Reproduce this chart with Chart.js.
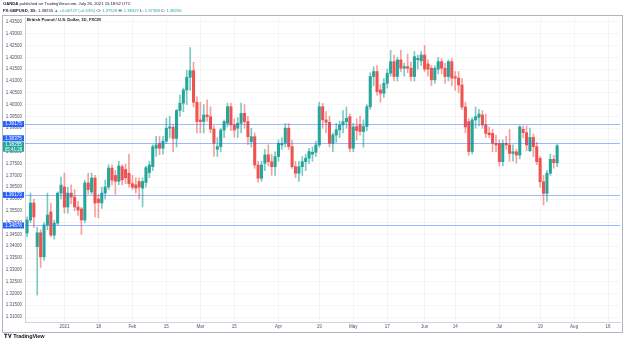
<!DOCTYPE html>
<html><head>
<meta charset="UTF-8">
<title>GBPUSD 1D</title>
<script src="https://cdn.jsdelivr.net/npm/chart.js@4"></script>
<style>
  body { margin: 0; background: #fff; font-family: "Liberation Sans", Arial, sans-serif; }
  #wrap { position: relative; width: 625px; height: 342px; overflow: hidden; }
  #chart { position: absolute; left: 0; top: 0; }
  .txt { position: absolute; white-space: nowrap; font-size: 4.2px; line-height: 6px; color: #131722; }
  .up { color: #26a69a; }
  #frame { position: absolute; left: 2px; top: 15px; width: 619px; height: 316px; border: 1px solid #b2b5be; pointer-events: none; }
  #logo { left: 4px; top: 333px; font-size: 5.5px; font-weight: bold; letter-spacing: -0.1px; }
</style>
</head><body>
<div id="wrap">
  <canvas id="chart" width="625" height="342"></canvas>
  <div id="frame"></div>
  <div class="txt" style="left:3px;top:1px;"><b>OANDA</b> published on TradingView.com, July 26, 2021 15:18:52 UTC</div>
  <div class="txt" style="left:3px;top:8px;"><b>FX:GBPUSD, 1D:</b> 1.38255 <span class="up">&#9650; +0.00727 (+0.53%)</span> O: <span class="up">1.37528</span> H: <span class="up">1.38327</span> L: <span class="up">1.37368</span> C: <span class="up">1.38255</span></div>
  <div class="txt" style="left:27px;top:17px;font-weight:bold;">British Pound / U.S. Dollar, 1D, FXCM</div>
  <div class="txt" id="logo">&#x1D413;&#x1D415; TradingView</div>
</div>
<script>
// daily candles, first one is Dec 16 2020 (bar index -11), bar 0 = Jan 4 2021
const firstBar = -11;
const opens = [
  1.3456, 1.3511, 1.3583, 1.3398, 1.3457, 1.3355, 1.3490, 1.3545, 1.3447, 1.3498, 1.3625,
  // Jan
  1.3651, 1.3566, 1.3625, 1.3608, 1.3566, 1.3558, 1.3511, 1.3668, 1.3630, 1.3689,
  1.3600, 1.3583, 1.3625, 1.3651, 1.3731, 1.3700, 1.3675, 1.3737, 1.3725, 1.3709,
  // Feb
  1.3665, 1.3660, 1.3674, 1.3646, 1.3670, 1.3712, 1.3737, 1.3815, 1.3836, 1.3815,
  1.3845, 1.3900, 1.3904, 1.3857, 1.3975, 1.4006, 1.4062, 1.4116, 1.4144, 1.4010,
  // Mar
  1.3935, 1.3928, 1.3956, 1.3949, 1.3896, 1.3811, 1.3822, 1.3892, 1.3921, 1.3991,
  1.3914, 1.3900, 1.3921, 1.3963, 1.3928, 1.3843, 1.3864, 1.3744, 1.3688, 1.3751,
  1.3787, 1.3758, 1.3737,
  // Apr
  1.3780, 1.3829, 1.3836, 1.3900, 1.3822, 1.3737, 1.3709, 1.3737, 1.3758, 1.3773,
  1.3790, 1.3798, 1.3829, 1.3991, 1.3935, 1.3925, 1.3836, 1.3871, 1.3893, 1.3914,
  1.3928, 1.3949,
  // May
  1.3815, 1.3907, 1.3914, 1.3886, 1.3907, 1.3991, 1.4119, 1.4140, 1.4062, 1.4048,
  1.4090, 1.4133, 1.4182, 1.4119, 1.4189, 1.4154, 1.4161, 1.4154, 1.4119, 1.4190,
  1.4185,
  // Jun
  1.4210, 1.4172, 1.4154, 1.4105, 1.4150, 1.4182, 1.4154, 1.4119, 1.4182, 1.4118,
  1.4112, 1.4083, 1.3990, 1.3928, 1.3801, 1.3935, 1.3946, 1.3956, 1.3914, 1.3880,
  1.3878, 1.3836,
  // Jul
  1.3836, 1.3758, 1.3836, 1.3829, 1.3793, 1.3800, 1.3786, 1.3895, 1.3881, 1.3805,
  1.3861, 1.3822, 1.3772, 1.3673, 1.3624, 1.3709, 1.3768, 1.37528
];
const highs = [
  1.3524, 1.3625, 1.3600, 1.3480, 1.3470, 1.3500, 1.3625, 1.3583, 1.3510, 1.3630, 1.3693,
  1.3710, 1.3650, 1.3660, 1.3640, 1.3590, 1.3565, 1.3680, 1.3710, 1.3710, 1.3700,
  1.3620, 1.3650, 1.3680, 1.3745, 1.3745, 1.3720, 1.3760, 1.3745, 1.3748, 1.3790,
  1.3700, 1.3690, 1.3690, 1.3690, 1.3740, 1.3760, 1.3830, 1.3865, 1.3865, 1.3865,
  1.3942, 1.3950, 1.3915, 1.3980, 1.4040, 1.4070, 1.4145, 1.4241, 1.4180, 1.4034,
  1.4010, 1.4000, 1.4020, 1.3990, 1.3910, 1.3860, 1.3900, 1.3935, 1.4006, 1.4006,
  1.3940, 1.3945, 1.4006, 1.4000, 1.3950, 1.3900, 1.3880, 1.3760, 1.3760, 1.3810,
  1.3830, 1.3790, 1.3800,
  1.3850, 1.3860, 1.3920, 1.3920, 1.3850, 1.3760, 1.3760, 1.3780, 1.3790, 1.3815,
  1.3820, 1.3845, 1.4010, 1.4005, 1.3970, 1.3950, 1.3880, 1.3920, 1.3930, 1.3975,
  1.3990, 1.3960,
  1.3920, 1.3940, 1.3950, 1.3935, 1.4000, 1.4135, 1.4160, 1.4165, 1.4085, 1.4110,
  1.4150, 1.4230, 1.4210, 1.4200, 1.4230, 1.4175, 1.4215, 1.4180, 1.4225, 1.4210,
  1.4225,
  1.4250, 1.4190, 1.4165, 1.4165, 1.4200, 1.4195, 1.4175, 1.4190, 1.4195, 1.4140,
  1.4140, 1.4110, 1.4010, 1.3940, 1.3945, 1.3990, 1.3980, 1.3975, 1.3960, 1.3905,
  1.3895, 1.3870,
  1.3850, 1.3850, 1.3865, 1.3895, 1.3830, 1.3810, 1.3910, 1.3910, 1.3910, 1.3900,
  1.3875, 1.3840, 1.3780, 1.3700, 1.3720, 1.3790, 1.3785, 1.38327
];
const lows = [
  1.3440, 1.3500, 1.3480, 1.3193, 1.3310, 1.3340, 1.3470, 1.3440, 1.3430, 1.3490, 1.3600,
  1.3540, 1.3540, 1.3580, 1.3550, 1.3530, 1.3450, 1.3500, 1.3620, 1.3620, 1.3524,
  1.3520, 1.3560, 1.3600, 1.3640, 1.3660, 1.3620, 1.3660, 1.3660, 1.3665, 1.3650,
  1.3640, 1.3625, 1.3600, 1.3566, 1.3650, 1.3690, 1.3720, 1.3780, 1.3787, 1.3790,
  1.3835, 1.3860, 1.3800, 1.3820, 1.3950, 1.3970, 1.4000, 1.4060, 1.3990, 1.3880,
  1.3880, 1.3880, 1.3930, 1.3880, 1.3780, 1.3780, 1.3800, 1.3860, 1.3905, 1.3890,
  1.3862, 1.3860, 1.3880, 1.3900, 1.3830, 1.3820, 1.3730, 1.3670, 1.3675, 1.3720,
  1.3740, 1.3700, 1.3700,
  1.3760, 1.3810, 1.3820, 1.3810, 1.3730, 1.3690, 1.3674, 1.3700, 1.3720, 1.3750,
  1.3760, 1.3780, 1.3820, 1.3900, 1.3880, 1.3820, 1.3800, 1.3840, 1.3860, 1.3880,
  1.3900, 1.3800,
  1.3800, 1.3850, 1.3870, 1.3820, 1.3890, 1.3980, 1.4080, 1.4040, 1.4010, 1.4030,
  1.4070, 1.4120, 1.4100, 1.4100, 1.4140, 1.4120, 1.4135, 1.4100, 1.4100, 1.4150,
  1.4165,
  1.4140, 1.4120, 1.4080, 1.4090, 1.4130, 1.4130, 1.4090, 1.4100, 1.4080, 1.4060,
  1.4050, 1.3980, 1.3880, 1.3785, 1.3790, 1.3900, 1.3910, 1.3900, 1.3860, 1.3860,
  1.3800, 1.3800,
  1.3740, 1.3740, 1.3810, 1.3760, 1.3760, 1.3751, 1.3770, 1.3860, 1.3805, 1.3800,
  1.3780, 1.3745, 1.3650, 1.3575, 1.3590, 1.3700, 1.3730, 1.37368
];
const closes = [
  1.3511, 1.3583, 1.3524, 1.3457, 1.3355, 1.3490, 1.3532, 1.3447, 1.3498, 1.3625, 1.3659,
  1.3566, 1.3625, 1.3608, 1.3566, 1.3553, 1.3511, 1.3668, 1.3640, 1.3689, 1.3583,
  1.3585, 1.3625, 1.3651, 1.3731, 1.3680, 1.3675, 1.3740, 1.3681, 1.3690, 1.3665,
  1.3650, 1.3646, 1.3650, 1.3674, 1.3733, 1.3744, 1.3822, 1.3829, 1.3815, 1.3845,
  1.3900, 1.3906, 1.3857, 1.3975, 1.4006, 1.4062, 1.4116, 1.4144, 1.4010, 1.3928,
  1.3928, 1.3956, 1.3949, 1.3896, 1.3836, 1.3822, 1.3892, 1.3928, 1.3991, 1.3914,
  1.3892, 1.3921, 1.3963, 1.3928, 1.3864, 1.3864, 1.3744, 1.3688, 1.3744, 1.3787,
  1.3758, 1.3737, 1.3780,
  1.3836, 1.3836, 1.3900, 1.3822, 1.3737, 1.3709, 1.3737, 1.3758, 1.3773, 1.3801,
  1.3798, 1.3829, 1.3991, 1.3935, 1.3925, 1.3836, 1.3871, 1.3893, 1.3914, 1.3928,
  1.3942, 1.3815,
  1.3905, 1.3890, 1.3886, 1.3907, 1.3991, 1.4119, 1.4140, 1.4055, 1.4048, 1.4090,
  1.4133, 1.4182, 1.4119, 1.4189, 1.4154, 1.4161, 1.4154, 1.4119, 1.4203, 1.4196,
  1.4210,
  1.4150, 1.4150, 1.4105, 1.4154, 1.4182, 1.4154, 1.4119, 1.4182, 1.4112, 1.4112,
  1.4083, 1.3990, 1.3905, 1.3801, 1.3935, 1.3949, 1.3960, 1.3914, 1.3878, 1.3872,
  1.3836, 1.3829,
  1.3758, 1.3836, 1.3829, 1.3793, 1.3800, 1.3786, 1.3906, 1.3881, 1.3829, 1.3861,
  1.3822, 1.3758, 1.3673, 1.3624, 1.3709, 1.3768, 1.3754, 1.38255
];

// time axis labels (bar index -> label)
const tickIndex = [0, 10, 20, 30, 40, 50, 63, 75, 85, 95, 106, 115, 128, 140, 150, 160];
const tickLabels = ['2021', '18', 'Feb', '15', 'Mar', '15', 'Apr', '19', 'May', '17', 'Jun', '14', 'Jul', '19', 'Aug', '16'];

// horizontal levels drawn on the chart
const levelValues = [1.39175, 1.38375, 1.36173, 1.34878];
const lastPrice = 1.38255;
const countdown = '05:41:28';

const UP = '#26a69a';
const DOWN = '#ef5350';
const LEVEL = '#2962ff';
const GRID = 'rgba(42,46,57,0.045)';
const FONT = '"Liberation Sans", Arial, sans-serif';

const isUp = opens.map((o, k) => closes[k] >= o);
const wickData = lows.map((l, k) => ({ x: firstBar + k, y: [l, highs[k]] }));
const bodyData = opens.map((o, k) => ({ x: firstBar + k, y: [o, closes[k]] }));

function tag(ctx, yTop, h, color, lines) {
  ctx.fillStyle = color;
  ctx.fillRect(3, yTop, 21, h);
  ctx.fillStyle = '#fff';
  ctx.font = '4.5px ' + FONT;
  ctx.textAlign = 'center';
  ctx.textBaseline = 'middle';
  const step = h / lines.length;
  lines.forEach((t, i) => ctx.fillText(t, 13.5, yTop + step * (i + 0.5)));
}

const levelPlugin = {
  id: 'levels',
  afterDatasetsDraw(chart) {
    const { ctx, chartArea: a } = chart;
    const y = chart.scales.y;
    ctx.save();
    ctx.strokeStyle = 'rgba(41,98,255,0.45)';
    ctx.lineWidth = 1;
    levelValues.forEach((v) => {
      const py = Math.round(y.getPixelForValue(v)) + 0.5;
      ctx.beginPath();
      ctx.moveTo(a.left, py);
      ctx.lineTo(a.right, py);
      ctx.stroke();
    });
    ctx.restore();
  },
  afterDraw(chart) {
    const { ctx } = chart;
    const y = chart.scales.y;
    const curTop = y.getPixelForValue(lastPrice) - 4;
    ctx.save();
    levelValues.forEach((v) => {
      let top = y.getPixelForValue(v) - 3;
      // keep clear of the last price tag
      if (top + 6 > curTop && top < curTop + 10) top = curTop - 6.5;
      tag(ctx, top, 6, LEVEL, [v.toFixed(5)]);
    });
    tag(ctx, curTop, 10, UP, [lastPrice.toFixed(5), countdown]);
    ctx.restore();
  }
};

new Chart(document.getElementById('chart'), {
  type: 'bar',
  data: {
    datasets: [
      {
        data: wickData,
        backgroundColor: isUp.map((u) => (u ? 'rgba(38,166,154,0.6)' : 'rgba(239,83,80,0.55)')),
        barThickness: 1,
        grouped: false,
        order: 2
      },
      {
        data: bodyData,
        backgroundColor: isUp.map((u) => (u ? UP : DOWN)),
        barThickness: 2.4,
        minBarLength: 1,
        grouped: false,
        order: 1
      }
    ]
  },
  options: {
    responsive: false,
    animation: false,
    layout: { padding: { left: 0, top: 17, right: 5, bottom: 11 } },
    plugins: { legend: { display: false }, tooltip: { enabled: false } },
    scales: {
      x: {
        type: 'linear',
        min: -11.6,
        max: 163.5,
        offset: false,
        grid: { color: GRID, drawTicks: false, offset: false },
        border: { color: '#d1d4dc' },
        ticks: {
          autoSkip: false,
          maxRotation: 0,
          padding: 2,
          color: '#50535e',
          font: { size: 4.5, family: FONT },
          callback: (v) => tickLabels[tickIndex.indexOf(v)]
        },
        afterBuildTicks: (scale) => { scale.ticks = tickIndex.map((v) => ({ value: v })); },
        afterFit: (scale) => { scale.height = 9; }
      },
      y: {
        position: 'left',
        min: 1.3079,
        max: 1.4371,
        grid: { color: GRID, drawTicks: false },
        border: { color: '#d1d4dc' },
        ticks: {
          stepSize: 0.005,
          includeBounds: false,
          autoSkip: false,
          padding: 3,
          color: '#50535e',
          font: { size: 4.5, family: FONT },
          callback: (v) => v.toFixed(5)
        },
        afterFit: (scale) => { scale.width = 25; }
      }
    }
  },
  plugins: [levelPlugin]
});
</script>
</body></html>
